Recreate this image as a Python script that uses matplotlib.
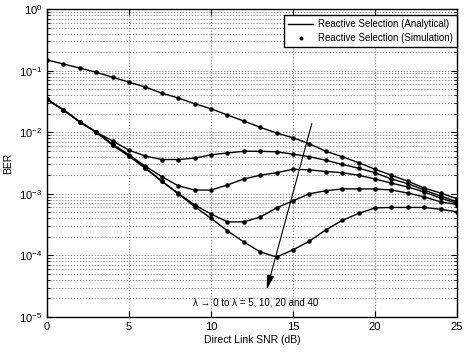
import matplotlib
matplotlib.use("Agg")
import matplotlib.pyplot as plt
from matplotlib.ticker import LogLocator, NullFormatter, MultipleLocator

plt.rcParams['font.family'] = ['Liberation Sans', 'DejaVu Sans']
plt.rcParams['mathtext.default'] = 'regular'

# direct link SNR (dB)
snr = list(range(0, 26))

# BER curves
ber_lam0 = [0.149, 0.128, 0.110, 0.094, 0.078, 0.065, 0.054, 0.043, 0.036, 0.029,
            0.024, 0.019, 0.0152, 0.012, 0.0097, 0.0081, 0.0065, 0.0049, 0.0040, 0.0032,
            0.0025, 0.0020, 0.0016, 0.00124, 0.00103, 0.00083]
ber_lam5 = [0.034, 0.023, 0.0147, 0.0100, 0.0072, 0.0051, 0.0041, 0.0036, 0.0036, 0.0038,
            0.0043, 0.0046, 0.0049, 0.0049, 0.0048, 0.0044, 0.0040, 0.0035, 0.0030, 0.0026,
            0.0022, 0.00174, 0.00146, 0.00115, 0.00092, 0.00074]
ber_lam10 = [0.034, 0.023, 0.0147, 0.0100, 0.0064, 0.0043, 0.0028, 0.0019, 0.00135, 0.00115,
             0.00115, 0.00139, 0.00174, 0.0020, 0.0022, 0.0025, 0.00245, 0.0023, 0.0022, 0.0020,
             0.00174, 0.00149, 0.00129, 0.00107, 0.00085, 0.00070]
ber_lam20 = [0.034, 0.023, 0.0147, 0.0100, 0.0062, 0.0041, 0.0026, 0.0016, 0.00102, 0.00066,
             0.00047, 0.00035, 0.00035, 0.00042, 0.00059, 0.00077, 0.00100, 0.00112, 0.00120, 0.00120,
             0.00120, 0.00115, 0.00103, 0.00089, 0.00074, 0.00067]
ber_lam40 = [0.034, 0.023, 0.0147, 0.0100, 0.0062, 0.0041, 0.0026, 0.0016, 0.00100, 0.00062,
             0.00040, 0.00025, 0.000165, 0.000114, 0.000094, 0.000123, 0.00017, 0.00026, 0.00037, 0.00048,
             0.00059, 0.00060, 0.00060, 0.00060, 0.00056, 0.00051]

curves = [ber_lam0, ber_lam5, ber_lam10, ber_lam20, ber_lam40]

fig = plt.figure(figsize=(4.66, 3.56), dpi=100)
ax = fig.add_axes([0.1009, 0.1096, 0.8798, 0.8651])

for i, ber in enumerate(curves):
    ax.semilogy(snr, ber, color='black', linewidth=1.0,
                label='Reactive Selection (Analytical)' if i == 0 else None)
    ax.semilogy(snr, ber, linestyle='none', marker='.', color='black', markersize=4.5,
                label='Reactive Selection (Simulation)' if i == 0 else None)

ax.set_xlim(0, 25)
ax.set_ylim(1e-5, 1)
ax.xaxis.set_major_locator(MultipleLocator(5))
ax.yaxis.set_minor_locator(LogLocator(base=10, subs=range(2, 10), numticks=20))
ax.yaxis.set_minor_formatter(NullFormatter())
ax.set_yticks([1e-5, 1e-4, 1e-3, 1e-2, 1e-1, 1])
ax.set_yticklabels(['$10^{-5}$', '$10^{-4}$', '$10^{-3}$', '$10^{-2}$', '$10^{-1}$', '$10^{0}$'])

ax.grid(True, which='major', linestyle=':', color='#888888', linewidth=0.8)
ax.grid(True, which='minor', axis='y', linestyle=':', color='#888888', linewidth=0.8)
ax.tick_params(which='both', direction='in', top=True, right=True, labelsize=8)
ax.tick_params(which='major', length=4)
ax.tick_params(which='minor', length=2)
for s in ax.spines.values():
    s.set_linewidth(1.0)

ax.set_xlabel('Direct Link SNR (dB)', fontsize=7.5, labelpad=2)
ax.set_ylabel('BER', fontsize=7.5, labelpad=4)

ax.annotate('', xy=(13.4, 2.8e-5), xytext=(16.15, 0.0139),
            arrowprops=dict(arrowstyle='-|>,head_length=0.7,head_width=0.18', color='black',
                            lw=0.8, mutation_scale=12, shrinkA=0, shrinkB=0))
ax.text(12.7, 1.75e-5, 'λ → 0 to λ = 5, 10, 20 and 40',
        fontsize=7, ha='center', va='center')

leg = ax.legend(loc='upper right', bbox_to_anchor=(1.0, 0.980), fontsize=7,
                frameon=True, fancybox=False, edgecolor='black', framealpha=1,
                borderaxespad=0, handlelength=2.6, handletextpad=0.5,
                borderpad=0.4, labelspacing=0.4, markerscale=0.8)
leg.get_frame().set_linewidth(1.0)

fig.savefig('out.png', dpi=100)
